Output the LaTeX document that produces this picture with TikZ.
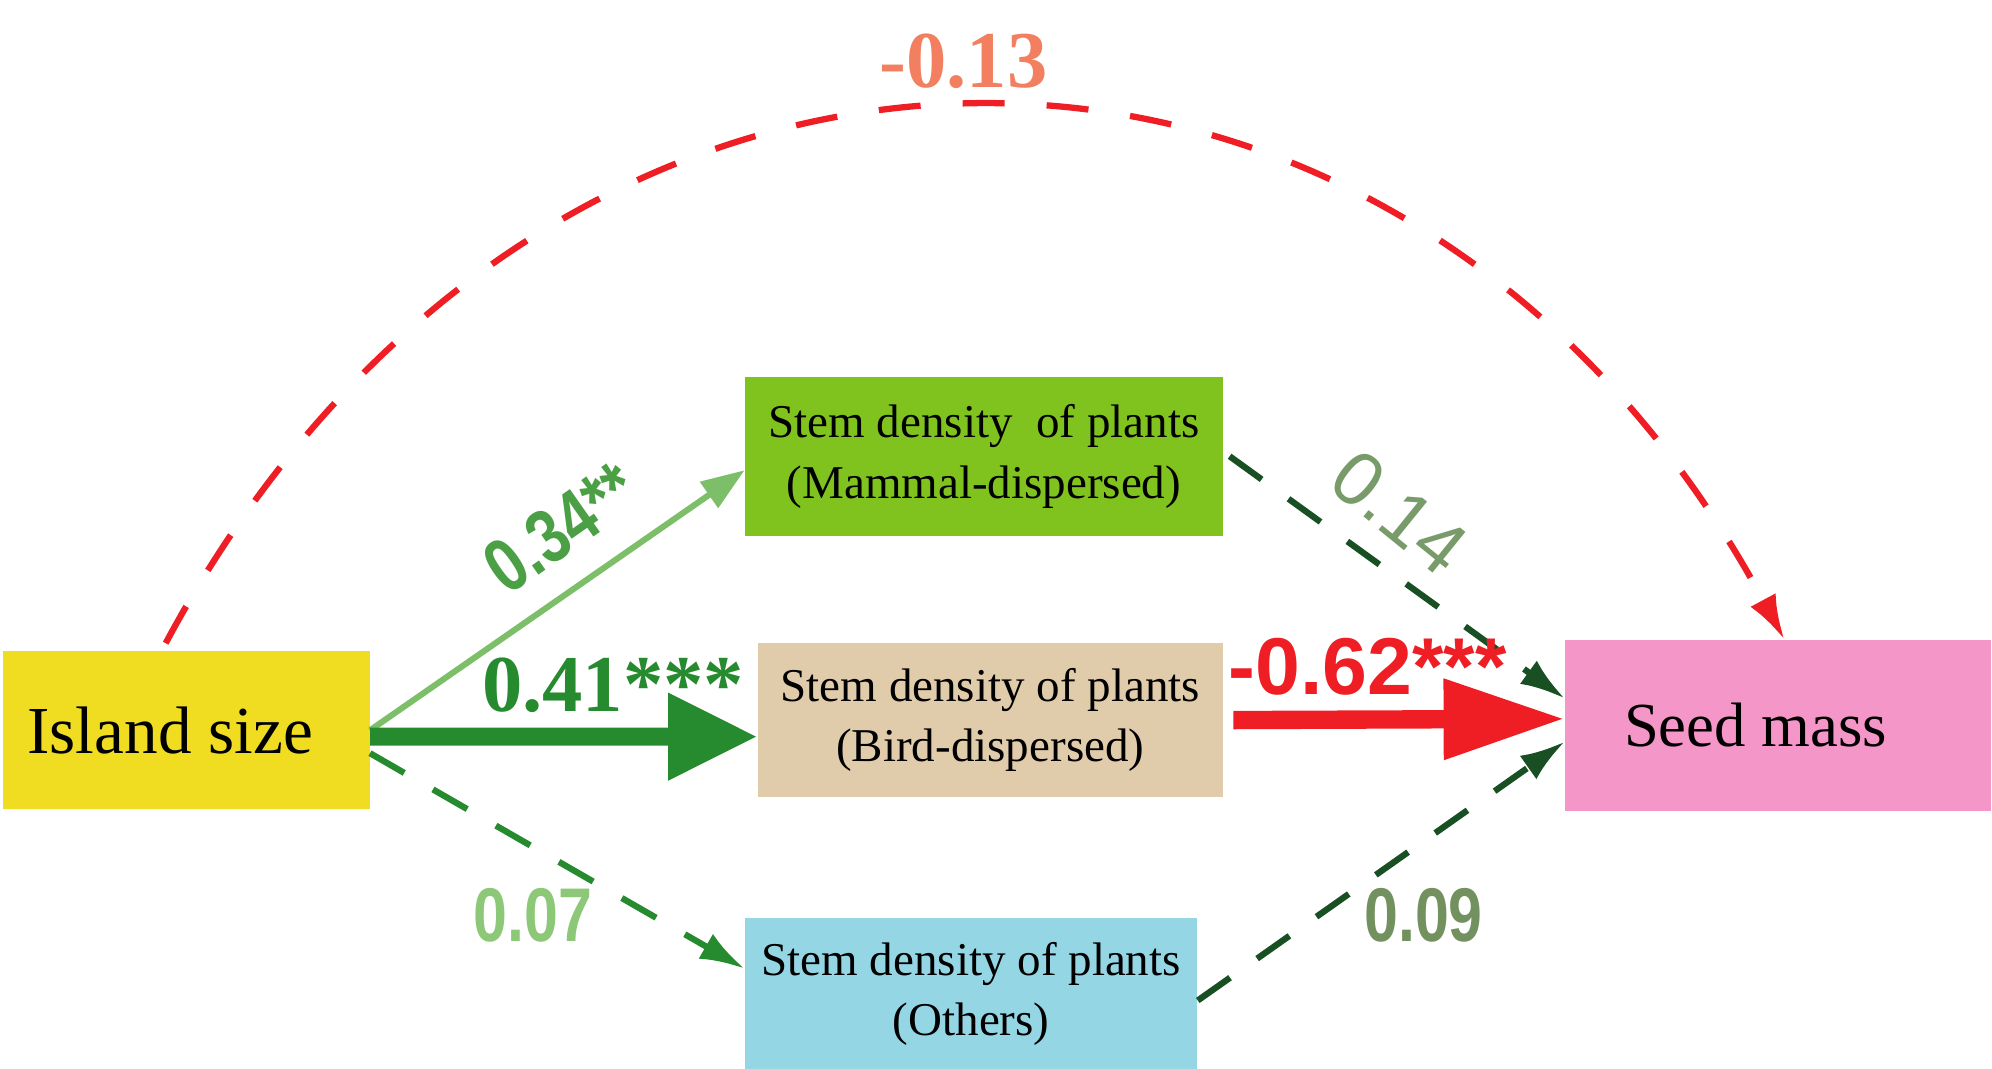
\documentclass[tikz,border=0pt]{standalone}
\usepackage{fontspec}
\setmainfont{Liberation Serif}
\newfontfamily\numsans{Liberation Sans}
\newfontfamily\numcond{Liberation Sans}[FakeStretch=0.8]
\usetikzlibrary{arrows.meta}
\definecolor{islandyellow}{RGB}{240,220,32}
\definecolor{mammalgreen}{RGB}{128,194,30}
\definecolor{birdtan}{RGB}{224,203,170}
\definecolor{othersblue}{RGB}{148,214,228}
\definecolor{seedpink}{RGB}{244,150,200}
\definecolor{pathred}{RGB}{238,30,36}
\definecolor{pathlight}{RGB}{125,190,105}
\definecolor{pathgreen}{RGB}{38,138,46}
\definecolor{pathdeep}{RGB}{25,80,35}
\definecolor{labsalmon}{RGB}{242,128,96}
\definecolor{labgreen}{RGB}{75,160,70}
\definecolor{labgrey}{RGB}{120,155,105}
\definecolor{lablight}{RGB}{140,200,120}
\definecolor{labolive}{RGB}{115,145,95}

\begin{document}
\begin{tikzpicture}[x=0.02cm,y=-0.02cm,
  box/.style={inner sep=0pt,align=center,font=\fontsize{21}{27}\selectfont},
  dashpath/.style={line width=2.8pt,dash pattern=on 0.62cm off 0.52cm,-{Latex[length=0.7cm,width=0.45cm]}}]
\useasboundingbox (0,0) rectangle (1563,838);
\node [box,fill=islandyellow,minimum width=5.76cm,minimum height=2.48cm,font=\fontsize{30}{36}\selectfont] (island) at (146,573) {Island size\hspace*{0.5cm}};
\node [box,fill=mammalgreen,minimum width=7.5cm,minimum height=2.5cm] (mammal) at (772,358) {Stem density~ of plants\\(Mammal-dispersed)};
\node [box,fill=birdtan,minimum width=7.3cm,minimum height=2.42cm] (bird) at (777,565) {Stem density of plants\\(Bird-dispersed)};
\node [box,fill=othersblue,minimum width=7.1cm,minimum height=2.4cm] (others) at (762,780) {Stem density of plants\\(Others)};
\node [box,fill=seedpink,minimum width=6.68cm,minimum height=2.68cm,font=\fontsize{28}{34}\selectfont] (seed) at (1395,569) {Seed mass\hspace*{0.7cm}};

\draw [pathred,dashpath,dash pattern=on 0.66cm off 0.66cm] ([xshift=-0.32cm,yshift=0.12cm]island.north) .. controls (430,-55) and (1100,-55) .. ([xshift=0.1cm]seed.north);
\draw [pathlight,line width=2.7pt,-{Triangle[length=0.68cm,width=0.48cm]}] (island.east) -- ([yshift=-0.22cm]mammal.west);
\draw [pathgreen,line width=8pt,-{Triangle[length=1.4cm,width=1.3cm]}] ([yshift=-0.1cm]island.east) -- ([yshift=-0.26cm]bird.west);
\draw [pathgreen,dashpath] ([yshift=-0.36cm]island.east) -- ([yshift=0.4cm]others.west);
\draw [pathdeep,dashpath] ([xshift=0.1cm]mammal.east) -- ([yshift=0.42cm]seed.west);
\draw [pathdeep,dashpath] ([yshift=-0.1cm]others.east) -- ([yshift=-0.26cm]seed.west);
\draw [pathred,line width=8.2pt,-{Triangle[length=1.9cm,width=1.2cm]}] ([xshift=0.16cm]bird.east) -- ([yshift=0.1cm]seed.west);

\node [text=labsalmon,font=\bfseries\fontsize{36}{40}\selectfont] (c13) at (756,48) {-0.13};
\node [text=labgreen,font=\numcond\bfseries\fontsize{34}{40}\selectfont,rotate=35,inner sep=0pt] (c34) at (440,414) {0.34**};
\node [text=pathgreen,font=\bfseries\fontsize{36}{40}\selectfont,inner sep=0pt] (c41) at (481,538) {0.41***};
\node [text=pathred,font=\numsans\bfseries\fontsize{36}{40}\selectfont] (c62) at (1073,523) {-0.62***};
\node [text=labgrey,font=\numsans\fontsize{34}{38}\selectfont,rotate=-39,inner sep=0pt] (c14) at (1098,402) {0.14};
\node [text=lablight,font=\numcond\bfseries\fontsize{34}{40}\selectfont] (c07) at (418,718) {0.07};
\node [text=labolive,font=\numcond\bfseries\fontsize{34}{40}\selectfont] (c09) at (1117,718) {0.09};
\end{tikzpicture}
\end{document}
